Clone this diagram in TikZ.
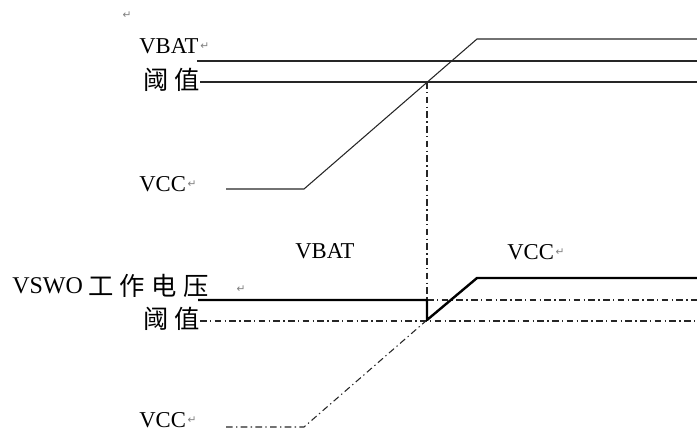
\documentclass[tikz,border=0pt]{standalone}
\usepackage{fontspec}
\setmainfont{Liberation Serif}
\newfontfamily\cjk[LetterSpace=25]{Noto Sans CJK SC}
\newfontfamily\retfont{DejaVu Sans}
\begin{document}
\begin{tikzpicture}[x=0.75pt,y=-0.75pt,line join=round]
            \tikzset{lbl/.style={font=\fontsize{17}{19}\selectfont,inner sep=0pt,anchor=west},
                cjklbl/.style={font=\cjk\fontsize{19}{21}\selectfont,inner sep=0pt,anchor=west},
                ret/.style={font=\retfont\fontsize{8}{9}\selectfont,text=gray,inner sep=0pt},
                thin line/.style={line width=.8pt,draw=black!85},
                dashdot/.style={line width=.8pt,draw=black!85,dash pattern=on 5pt off 2.5pt on 1pt off 2.5pt},
                wave/.style={line width=1.8pt}}
            \def \xend{697}
            \def \xcut{427}
            \useasboundingbox (0,0) rectangle (697,432);
            % upper plot
            \node[ret] (r0) at (127,15) {↵};
            \node[lbl] (vbat) at (139,46) {VBAT};
            \node[ret,anchor=west] (r1) at ([xshift=1pt]vbat.east) {↵};
            \node[cjklbl] (thr) at (143,80) {阈值};
            \node[lbl] (vcc) at (139,184) {VCC};
            \node[ret,anchor=west] (r2) at ([xshift=1pt]vcc.east) {↵};
            \coordinate (a0) at (226,189);
            \coordinate (a1) at (304,189);
            \coordinate (a2) at (477,39);
            \coordinate (a3) at (\xend,39);
            \coordinate (b0) at (197,61);
            \coordinate (b1) at (\xend,61);
            \coordinate (c0) at (200,82);
            \coordinate (c1) at (\xend,82);
            \coordinate (cut) at (\xcut,82);
            \draw[thin line] (a0)--(a1)--(a2)--(a3);
            \draw[thin line] (b0)--(b1);
            \draw[thin line] (c0)--(c1);
            % lower plot
            \node[lbl] (lvbat) at (295,251) {VBAT};
            \node[lbl] (lvcc) at (507,252) {VCC};
            \node[ret,anchor=west] (r3) at ([xshift=1pt]lvcc.east) {↵};
            \node[lbl,font=\fontsize{18}{20}\selectfont] (vswo) at (12,286) {VSWO};
            \node[cjklbl] (work) at (88,286) {工作电压};
            \node[ret] (r4) at (241,289) {↵};
            \node[cjklbl] (lthr) at (143,319) {阈值};
            \node[lbl] (lvcc2) at (139,420) {VCC};
            \node[ret,anchor=west] (r5) at ([xshift=1pt]lvcc2.east) {↵};
            \coordinate (d0) at (198,300);
            \coordinate (d1) at (\xcut,300);
            \coordinate (d2) at (\xcut,320);
            \coordinate (d3) at (477,278);
            \coordinate (d4) at (\xend,278);
            \coordinate (d5) at (\xend,300);
            \coordinate (e0) at (200,321);
            \coordinate (e1) at (\xend,321);
            \coordinate (f0) at (226,427);
            \coordinate (f1) at (304,427);
            \draw[dashdot] (cut)--(d1);
            \draw[dashdot] (d1)--(d5);
            \draw[dashdot] (e0)--(e1);
            \draw[dashdot] (f0)--(f1)--(d2);
            \draw[wave] (d0)--(d1)--(d2)--(d3)--(d4);
        \end{tikzpicture}
\end{document}
